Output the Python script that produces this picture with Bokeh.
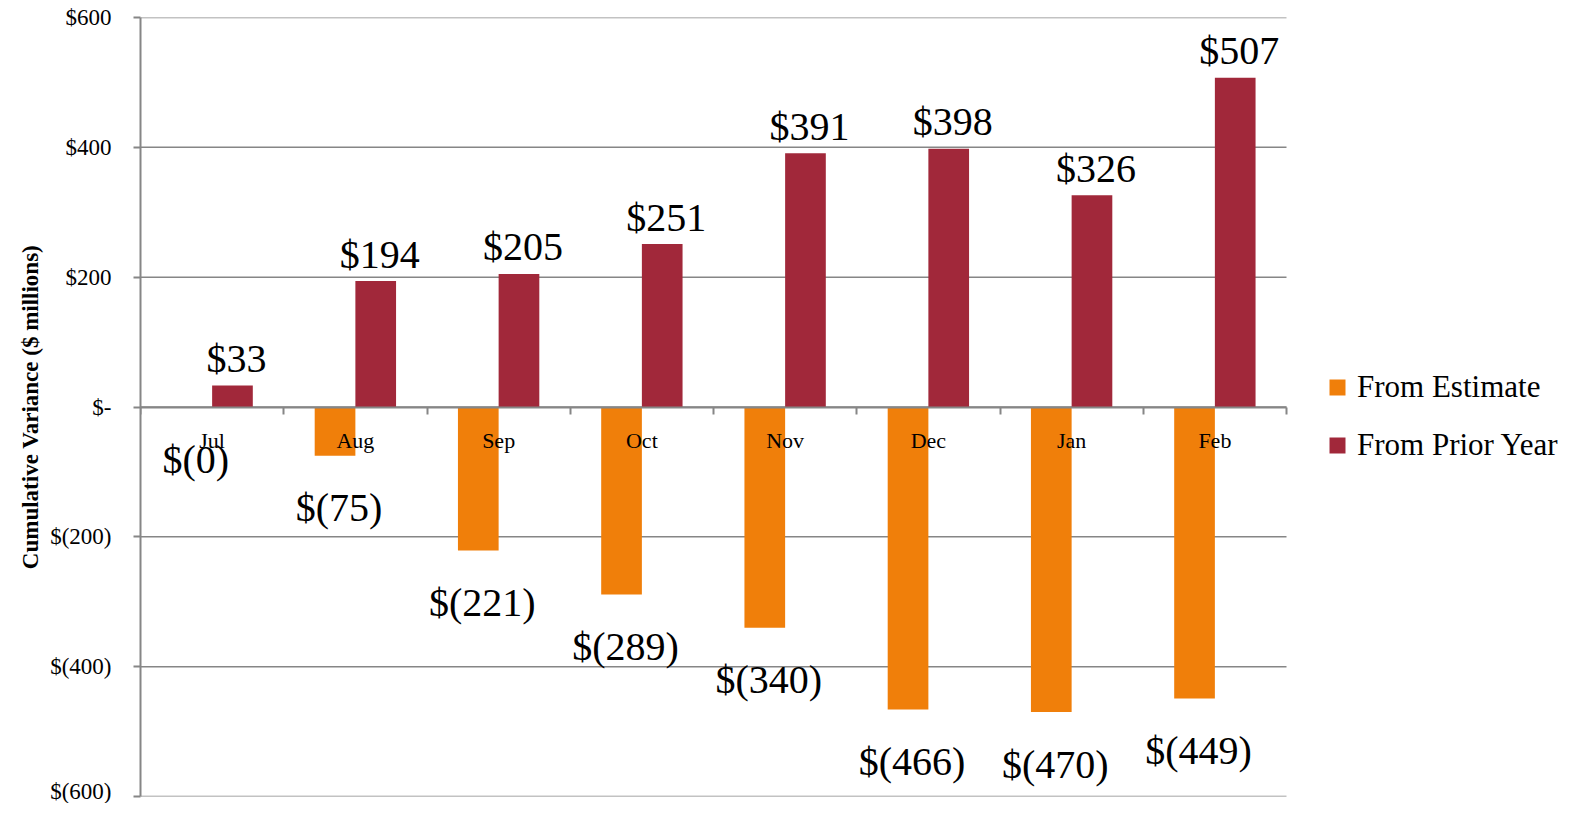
from bokeh.plotting import figure
from bokeh.models import (Range1d, FixedTicker, LinearAxis, Legend, LegendItem,
                          ColumnDataSource)
from bokeh.core.properties import value
from bokeh.embed import file_html
from bokeh.resources import INLINE

# ---- data ----
months = ["Jul", "Aug", "Sep", "Oct", "Nov", "Dec", "Jan", "Feb"]
from_estimate = [-0.2, -75, -221, -289, -340, -466, -470, -449]
from_prior_year = [33, 194, 205, 251, 391, 398, 326, 507]
y_ticks = [-600, -400, -200, 0, 200, 400, 600]
y_tick_labels = ["$(600)", "$(400)", "$(200)", "$-", "$200", "$400", "$600"]
series_names = ["From Estimate", "From Prior Year"]

FONT = "Liberation Serif"
ORANGE = "#F07F0A"
RED = "#A1283A"
GREY = "#868686"

W, H = 1576, 803
LEFT, TOP, BOTTOM = 140, 17, 7
PLOT_W = 1146          # width of the category area in px


def fmt(v):
    r = int(round(abs(v)))
    return f"$({r})" if v < 0 else f"${r}"


n = len(months)
centers = [i + 0.5 for i in range(n)]
bw = 0.284

est_src = ColumnDataSource(dict(
    x=[c - bw / 2 for c in centers], top=from_estimate,
    label=[fmt(v) for v in from_estimate]))
py_src = ColumnDataSource(dict(
    x=[c + bw / 2 for c in centers], top=from_prior_year,
    label=[fmt(v) for v in from_prior_year]))

frame_w = W - LEFT
p = figure(width=W, height=H, output_backend="svg", toolbar_location=None,
           x_range=Range1d(0, n * frame_w / PLOT_W), y_range=Range1d(-600, 600),
           x_axis_location=None, y_axis_location="left",
           min_border_left=LEFT, min_border_right=0,
           min_border_top=TOP, min_border_bottom=BOTTOM)
p.outline_line_color = None
p.background_fill_color = "white"
p.border_fill_color = "white"
p.grid.visible = False

# horizontal grid lines limited to the category area
p.segment(x0=0, x1=n, y0=y_ticks, y1=y_ticks, line_color=GREY, line_width=1.5)

# y axis
yax = p.yaxis[0]
yax.ticker = FixedTicker(ticks=y_ticks)
yax.major_label_overrides = {t: l for t, l in zip(y_ticks, y_tick_labels)}
yax.axis_label = "Cumulative Variance ($ millions)"
yax.axis_label_text_font = FONT
yax.axis_label_text_font_style = "bold"
yax.axis_label_text_font_size = "23px"
yax.axis_label_text_color = "black"
yax.axis_label_standoff = 4
yax.major_label_text_font = FONT
yax.major_label_text_font_size = "23px"
yax.major_label_text_color = "black"
yax.major_label_standoff = 22
yax.axis_line_color = GREY
yax.axis_line_width = 2
yax.major_tick_line_color = GREY
yax.major_tick_line_width = 2
yax.major_tick_out = 7
yax.major_tick_in = 0
yax.minor_tick_line_color = None

# bars
r_est = p.vbar(x="x", top="top", bottom=0, width=bw, source=est_src,
               fill_color=ORANGE, line_color=None)
r_py = p.vbar(x="x", top="top", bottom=0, width=bw, source=py_src,
              fill_color=RED, line_color=None)

# x axis at zero
xax = LinearAxis(fixed_location=0, bounds=(0, n),
                 ticker=FixedTicker(ticks=centers, minor_ticks=list(range(n + 1))))
xax.major_label_overrides = {c: m for c, m in zip(centers, months)}
xax.major_label_text_font = FONT
xax.major_label_text_font_size = "22px"
xax.major_label_text_color = "black"
xax.major_label_standoff = 14
xax.major_tick_line_color = None
xax.major_tick_out = 0
xax.major_tick_in = 0
xax.minor_tick_line_color = GREY
xax.minor_tick_line_width = 2
xax.minor_tick_out = 7
xax.minor_tick_in = 0
xax.axis_line_color = GREY
xax.axis_line_width = 2
p.add_layout(xax, "below")

# data labels
p.text(x="x", y="top", text="label", source=py_src,
       text_font=value(FONT), text_font_size="40px",
       text_align="center", text_baseline="alphabetic",
       x_offset=4, y_offset=-27, text_color="black")
p.text(x="x", y="top", text="label", source=est_src,
       text_font=value(FONT), text_font_size="40px",
       text_align="center", text_baseline="alphabetic",
       x_offset=4, y_offset=52, text_color="black")

legend = Legend(items=[LegendItem(label=series_names[0], renderers=[r_est]),
                       LegendItem(label=series_names[1], renderers=[r_py])],
                location=(PLOT_W + 41, 333), orientation="vertical",
                border_line_color=None, background_fill_alpha=0,
                label_text_font=FONT, label_text_font_size="31px",
                label_text_color="black",
                glyph_width=20, glyph_height=20, label_standoff=10,
                spacing=22, padding=0, margin=0)
p.add_layout(legend)

open("out.html", "w").write(file_html(p, INLINE))
